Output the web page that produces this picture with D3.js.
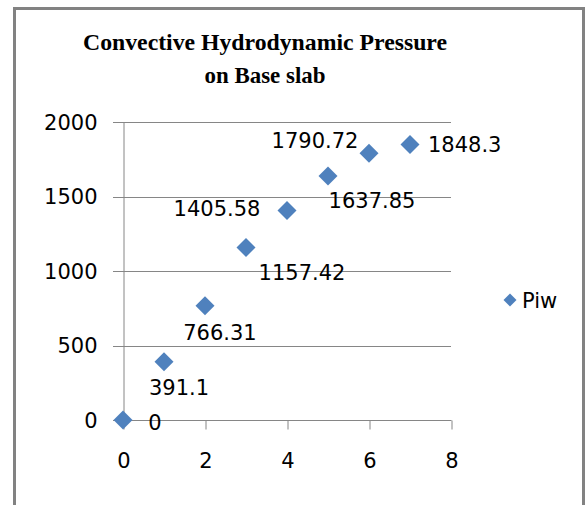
<!DOCTYPE html>
<html>
<head>
<meta charset="utf-8">
<script src="https://cdnjs.cloudflare.com/ajax/libs/d3/7.8.5/d3.min.js"></script>
<style>
  body { margin: 0; background: #fff; }
  svg { display: block; }
</style>
</head>
<body>
<script>
var width = 588,
    height = 505;

// data
var xValues = [0, 1, 2, 3, 4, 5, 6, 7];
var piw = [0, 391.1, 766.31, 1157.42, 1405.58, 1637.85, 1790.72, 1848.3];
var pointLabels = ['0', '391.1', '766.31', '1157.42', '1405.58', '1637.85', '1790.72', '1848.3'];
var xTicks = [0, 2, 4, 6, 8];
var yTicks = [0, 500, 1000, 1500, 2000];
var titleLines = ['Convective Hydrodynamic Pressure', 'on Base slab'];
var seriesName = 'Piw';

// label offsets from each point (dx, dy), labels were dragged by hand in the original
var labelOffset = [[32, 2], [15, 26], [15, 27], [56, 25], [-70, -2], [44, 24], [-54, -13], [18, 0]];
var labelAnchor = ['middle', 'middle', 'middle', 'middle', 'middle', 'middle', 'middle', 'start'];

var blue = '#4F81BD',
    grid = '#868686',
    font = 'DejaVu Sans, sans-serif';

var svg = d3.select('body')
  .append('svg')
  .attr('width', width)
  .attr('height', height);

// chart border
svg.append('rect')
  .attr('x', 14.5)
  .attr('y', 8.5)
  .attr('width', 569)
  .attr('height', 520)
  .style('fill', '#fff')
  .style('stroke', '#828282')
  .style('stroke-width', 3);

var x = d3.scaleLinear().domain([0, 8]).range([123, 451]);
var y = d3.scaleLinear().domain([0, 2000]).range([420, 122]);

// title
svg.append('g').selectAll('text')
  .data(titleLines)
  .enter().append('text')
  .attr('x', 265)
  .attr('y', function(d, i) { return 50 + i * 33; })
  .attr('text-anchor', 'middle')
  .attr('textLength', function(d, i) { return i === 0 ? 364 : 121; })
  .attr('lengthAdjust', 'spacingAndGlyphs')
  .style('font-family', 'Liberation Serif, Times New Roman, serif')
  .style('font-weight', 'bold')
  .style('font-size', '24px')
  .text(function(d) { return d; });

// horizontal gridlines (they run through the y tick marks)
svg.append('g').selectAll('line')
  .data(yTicks)
  .enter().append('line')
  .attr('x1', 113)
  .attr('x2', x(8))
  .attr('y1', function(d) { return Math.round(y(d)) + 0.5; })
  .attr('y2', function(d) { return Math.round(y(d)) + 0.5; })
  .style('stroke', grid)
  .style('stroke-width', 1);

// y axis
var yAxis = svg.append('g')
  .attr('transform', 'translate(' + (x(0) + 0.5) + ',0.5)')
  .call(d3.axisLeft(y).tickValues(yTicks).tickFormat(d3.format('d')).tickSize(0).tickPadding(26));
yAxis.select('.domain').style('stroke', grid);
yAxis.selectAll('text')
  .style('font-family', font)
  .style('font-size', '21px')
  .style('fill', '#000');

// x axis
var xAxis = svg.append('g')
  .attr('transform', 'translate(0.5,' + (Math.round(y(0)) + 0.5) + ')')
  .call(d3.axisBottom(x).tickValues(xTicks).tickFormat(d3.format('d')).tickSizeInner(9).tickSizeOuter(0).tickPadding(24));
xAxis.select('.domain').style('stroke', grid).attr('d', 'M' + (113 - 0.5) + ',0H' + x(8));
xAxis.selectAll('line').style('stroke', grid);
xAxis.selectAll('text')
  .style('font-family', font)
  .style('font-size', '21px')
  .style('fill', '#000');

// points
var diamond = d3.symbol().type(d3.symbolSquare).size(180);

var data = xValues.map(function(d, i) {
  return { x: d, y: piw[i], label: pointLabels[i], off: labelOffset[i], anchor: labelAnchor[i] };
});

svg.append('g').selectAll('path')
  .data(data)
  .enter().append('path')
  .attr('d', diamond)
  .attr('transform', function(d) { return 'translate(' + x(d.x) + ',' + y(d.y) + ') rotate(45)'; })
  .style('fill', blue);

// data labels
svg.append('g').selectAll('text')
  .data(data)
  .enter().append('text')
  .attr('x', function(d) { return x(d.x) + d.off[0]; })
  .attr('y', function(d) { return y(d.y) + d.off[1]; })
  .attr('dy', '0.36em')
  .attr('text-anchor', function(d) { return d.anchor; })
  .style('font-family', font)
  .style('font-size', '21px')
  .style('fill', '#000')
  .text(function(d) { return d.label; });

// legend
var legend = svg.append('g').attr('transform', 'translate(510,300)');
legend.append('path')
  .attr('d', d3.symbol().type(d3.symbolSquare).size(85))
  .attr('transform', 'rotate(45)')
  .style('fill', blue);
legend.append('text')
  .attr('x', 12)
  .attr('y', 0)
  .attr('dy', '0.36em')
  .style('font-family', font)
  .style('font-size', '21px')
  .style('fill', '#000')
  .text(seriesName);
</script>
</body>
</html>
